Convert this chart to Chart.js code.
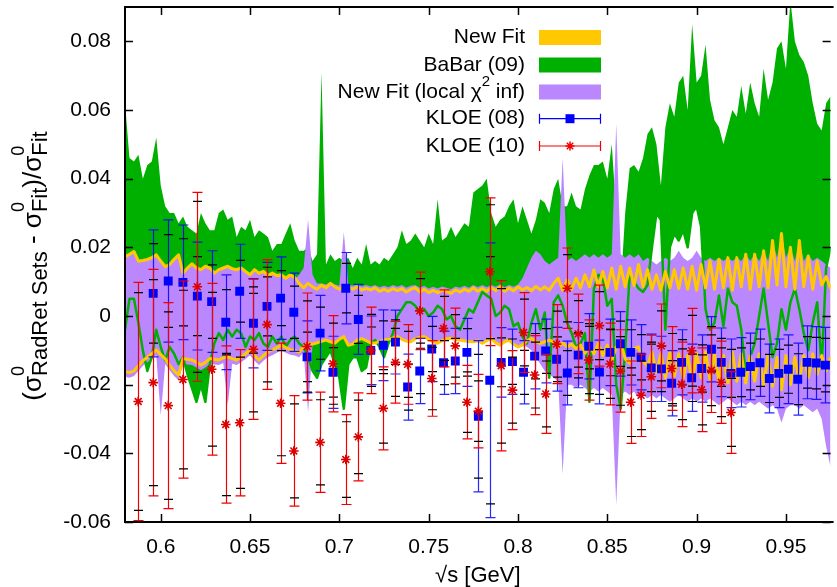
<!DOCTYPE html>
<html>
<head>
<meta charset="utf-8">
<script src="https://cdn.jsdelivr.net/npm/chart.js@4.4.0/dist/chart.umd.min.js"></script>
<style>
  html, body { margin: 0; padding: 0; background: #fff; }
  canvas { display: block; }
</style>
</head>
<body>
<canvas id="chart" width="837" height="587"></canvas>
<script>
const FONT = '"Liberation Sans", Arial, sans-serif';

const xTicks = [0.6, 0.65, 0.7, 0.75, 0.8, 0.85, 0.9, 0.95];
const xTickLabels = ['0.6', '0.65', '0.7', '0.75', '0.8', '0.85', '0.9', '0.95'];
const yTicks = [-0.06, -0.04, -0.02, 0, 0.02, 0.04, 0.06, 0.08];
const yTickLabels = ['-0.06', '-0.04', '-0.02', '0', '0.02', '0.04', '0.06', '0.08'];

// sqrt(s) grid the bands are read on
const bandX = [
  0.58,0.5825,0.585,0.5875,0.59,0.5925,0.595,0.5975,0.6,0.6025,
  0.605,0.6075,0.61,0.6125,0.615,0.6175,0.62,0.6225,0.625,0.6275,
  0.63,0.6325,0.635,0.6375,0.64,0.6425,0.645,0.6475,0.65,0.6525,
  0.655,0.6575,0.66,0.6625,0.665,0.6675,0.67,0.6725,0.675,0.6775,
  0.68,0.6825,0.685,0.6875,0.69,0.6925,0.695,0.6975,0.7,0.7025,
  0.705,0.7075,0.71,0.7125,0.715,0.7175,0.72,0.7225,0.725,0.7275,
  0.73,0.7325,0.735,0.7375,0.74,0.7425,0.745,0.7475,0.75,0.7525,
  0.755,0.7575,0.76,0.7625,0.765,0.7675,0.77,0.7725,0.775,0.7775,
  0.78,0.7825,0.785,0.7875,0.79,0.7925,0.795,0.7975,0.8,0.8025,
  0.805,0.8075,0.81,0.8125,0.815,0.8175,0.82,0.8225,0.825,0.8275,
  0.83,0.8325,0.835,0.8375,0.84,0.8425,0.845,0.8475,0.85,0.8525,
  0.855,0.8575,0.86,0.8625,0.865,0.8675,0.87,0.8725,0.875,0.8775,
  0.88,0.8825,0.885,0.8875,0.89,0.8925,0.895,0.8975,0.9,0.9025,
  0.905,0.9075,0.91,0.9125,0.915,0.9175,0.92,0.9225,0.925,0.9275,
  0.93,0.9325,0.935,0.9375,0.94,0.9425,0.945,0.9475,0.95,0.9525,
  0.955,0.9575,0.96,0.9625,0.965,0.9675,0.97,0.9725,0.975
];

// BaBar (09) band
const babarUpper = [
  0.062,0.046,0.045,0.047,0.040,0.044,0.045,0.052,0.038,0.032,
  0.030,0.030,0.027,0.029,0.026,0.025,0.024,0.030,0.027,0.025,
  0.025,0.030,0.031,0.028,0.029,0.023,0.026,0.025,0.028,0.023,
  0.025,0.024,0.023,0.019,0.021,0.021,0.024,0.027,0.022,0.019,
  0.019,0.020,0.016,0.018,0.071,0.015,0.018,0.016,0.017,0.016,
  0.017,0.014,0.017,0.015,0.021,0.015,0.016,0.015,0.017,0.016,
  0.018,0.020,0.025,0.021,0.022,0.024,0.022,0.020,0.024,0.021,
  0.034,0.022,0.023,0.026,0.023,0.025,0.027,0.026,0.036,0.037,
  0.038,0.040,0.030,0.026,0.028,0.029,0.032,0.034,0.027,0.032,
  0.028,0.024,0.028,0.034,0.033,0.030,0.037,0.040,0.032,0.032,
  0.036,0.032,0.031,0.037,0.041,0.044,0.044,0.045,0.040,0.050,
  0.030,0.008,0.030,0.043,0.044,0.042,0.046,0.053,0.055,0.050,
  0.038,0.055,0.062,0.058,0.068,0.070,0.060,0.085,0.068,0.070,
  0.079,0.063,0.057,0.055,0.050,0.055,0.060,0.058,0.067,0.059,
  0.068,0.062,0.058,0.072,0.063,0.068,0.078,0.080,0.072,0.092,
  0.080,0.076,0.074,0.070,0.062,0.056,0.054,0.062,0.064
];
const babarLower = [
  -0.004,0.005,0.005,-0.002,-0.010,-0.016,-0.012,-0.004,-0.009,-0.013,
  -0.009,-0.011,-0.014,-0.012,-0.017,-0.021,-0.025,-0.020,-0.025,-0.014,
  -0.008,-0.005,-0.007,-0.004,-0.006,-0.004,-0.005,-0.009,-0.006,-0.007,
  -0.005,-0.008,-0.009,-0.006,-0.008,-0.006,-0.009,-0.007,-0.006,-0.008,
  -0.009,-0.012,-0.016,-0.018,-0.014,-0.012,-0.010,-0.014,-0.018,-0.027,
  -0.014,-0.012,-0.012,-0.016,-0.015,-0.008,-0.007,-0.009,-0.012,-0.008,
  -0.005,0.000,0.002,0.004,0.004,0.003,0.001,0.002,0.000,0.001,
  0.003,0.002,-0.001,0.000,-0.003,-0.004,-0.001,0.002,0.001,0.004,
  0.007,0.006,0.005,0.000,0.001,0.003,0.002,-0.003,-0.002,-0.006,
  -0.008,-0.002,0.002,-0.004,0.001,-0.018,0.004,0.006,0.003,-0.002,
  -0.005,-0.009,-0.008,-0.005,-0.025,0.008,0.012,0.011,0.003,0.005,
  -0.020,-0.027,-0.010,0.012,0.010,0.008,0.007,0.009,0.020,0.030,
  0.028,-0.004,0.020,0.024,0.022,0.025,0.020,0.030,0.032,0.026,
  0.002,-0.004,-0.002,0.006,-0.003,0.008,0.004,0.003,-0.004,-0.017,
  -0.012,-0.008,0.000,0.008,-0.002,-0.012,-0.008,0.002,-0.004,0.004,
  0.008,0.002,-0.005,-0.010,-0.002,0.004,-0.015,0.014,0.020
];

// New Fit band
const fitUpper = [
  0.0173,0.018,0.0188,0.016,0.0162,0.0165,0.017,0.0178,0.016,0.0144,
  0.015,0.0165,0.0178,0.0125,0.014,0.0152,0.014,0.0135,0.0145,0.014,
  0.0125,0.0135,0.014,0.0145,0.0138,0.0135,0.014,0.013,0.012,0.0135,
  0.0125,0.013,0.0118,0.0125,0.0118,0.012,0.011,0.012,0.0112,0.0095,
  0.0082,0.0095,0.0085,0.0078,0.009,0.0082,0.0095,0.0085,0.0078,0.0088,
  0.0085,0.0078,0.0085,0.0076,0.008,0.0076,0.0082,0.0072,0.0078,0.0072,
  0.008,0.0074,0.008,0.007,0.0078,0.0082,0.007,0.0078,0.0068,0.0075,
  0.0068,0.0076,0.0072,0.0066,0.0076,0.007,0.0078,0.0072,0.0082,0.0072,
  0.008,0.0072,0.0082,0.0074,0.0085,0.0072,0.0082,0.0073,0.0085,0.0076,
  0.0083,0.0074,0.0086,0.0076,0.0085,0.0075,0.0095,0.011,0.0075,0.0105,
  0.0078,0.011,0.0082,0.012,0.0085,0.0134,0.0085,0.013,0.0082,0.014,
  0.0078,0.0145,0.0085,0.014,0.0088,0.015,0.0085,0.0135,0.0078,0.012,
  0.0075,0.013,0.0082,0.0135,0.008,0.014,0.0078,0.0145,0.0075,0.015,
  0.0082,0.016,0.0078,0.0165,0.0082,0.017,0.0075,0.017,0.0085,0.018,
  0.0078,0.018,0.0085,0.019,0.0082,0.022,0.009,0.024,0.0085,0.02,
  0.0078,0.022,0.0085,0.0175,0.0078,0.016,0.009,0.0115,0.008
];
const fitLower = [
  -0.0162,-0.0165,-0.016,-0.0145,-0.013,-0.012,-0.011,-0.0099,-0.0112,-0.0125,
  -0.0143,-0.016,-0.0172,-0.0124,-0.0126,-0.0128,-0.0135,-0.0143,-0.0135,-0.0124,
  -0.0126,-0.0128,-0.0122,-0.0119,-0.0124,-0.0128,-0.012,-0.011,-0.0099,-0.0115,
  -0.0128,-0.0115,-0.0105,-0.0099,-0.0092,-0.0085,-0.0092,-0.0098,-0.01,-0.0105,
  -0.009,-0.0079,-0.0082,-0.0078,-0.0074,-0.007,-0.0075,-0.0079,-0.0068,-0.006,
  -0.0085,-0.0082,-0.007,-0.0066,-0.0072,-0.0078,-0.0079,-0.0074,-0.007,-0.0068,
  -0.0064,-0.006,-0.0068,-0.0073,-0.0075,-0.0066,-0.0062,-0.006,-0.0068,-0.0075,
  -0.0079,-0.0072,-0.0066,-0.0065,-0.0068,-0.007,-0.0072,-0.0074,-0.0075,-0.0072,
  -0.0079,-0.0072,-0.0065,-0.0078,-0.0085,-0.0075,-0.007,-0.0082,-0.009,-0.0085,
  -0.0072,-0.0065,-0.0075,-0.008,-0.0075,-0.007,-0.0075,-0.009,-0.0078,-0.009,
  -0.0082,-0.0095,-0.0085,-0.0108,-0.0085,-0.011,-0.008,-0.0115,-0.0085,-0.0128,
  -0.009,-0.0075,-0.0125,-0.0137,-0.0095,-0.009,-0.013,-0.0147,-0.0105,-0.0165,
  -0.011,-0.018,-0.0105,-0.0175,-0.011,-0.018,-0.0115,-0.019,-0.011,-0.018,
  -0.0105,-0.0185,-0.011,-0.019,-0.0115,-0.0195,-0.0105,-0.019,-0.011,-0.0195,
  -0.0115,-0.019,-0.011,-0.02,-0.0115,-0.0205,-0.012,-0.0215,-0.0115,-0.02,
  -0.012,-0.019,-0.0115,-0.018,-0.011,-0.017,-0.0115,-0.016,-0.012
];

// New Fit (local chi2 inf) band
const localUpper = [
  0.0168,0.0175,0.0183,0.0155,0.0157,0.016,0.0165,0.0173,0.0155,0.0139,
  0.0145,0.016,0.0173,0.012,0.0135,0.0147,0.0135,0.013,0.014,0.0135,
  0.012,0.013,0.0135,0.014,0.0133,0.013,0.0135,0.0125,0.0115,0.013,
  0.012,0.0125,0.0113,0.012,0.0113,0.0115,0.0105,0.0115,0.0107,0.012,
  0.014,0.028,0.012,0.0095,0.0095,0.0092,0.0098,0.0092,0.0088,0.0245,
  0.0092,0.0088,0.0092,0.0086,0.009,0.0086,0.009,0.0084,0.0088,0.0084,
  0.009,0.0085,0.009,0.0082,0.0088,0.009,0.0082,0.0088,0.008,0.0085,
  0.008,0.0086,0.0082,0.0078,0.0086,0.0082,0.0088,0.0082,0.009,0.0084,
  0.009,0.0084,0.009,0.0085,0.0092,0.0084,0.009,0.0085,0.0092,0.011,
  0.014,0.017,0.019,0.018,0.016,0.015,0.016,0.017,0.046,0.016,
  0.017,0.016,0.017,0.018,0.017,0.018,0.017,0.018,0.017,0.018,
  0.056,0.018,0.017,0.018,0.017,0.018,0.016,0.017,0.016,0.015,
  0.016,0.017,0.016,0.017,0.019,0.017,0.016,0.017,0.019,0.017,
  0.016,0.017,0.016,0.017,0.016,0.017,0.016,0.017,0.016,0.018,
  0.016,0.018,0.016,0.019,0.016,0.022,0.017,0.024,0.017,0.02,
  0.016,0.022,0.016,0.018,0.016,0.017,0.016,0.015,0.014
];
const localLower = [
  -0.0177,-0.018,-0.0175,-0.016,-0.0145,-0.0135,-0.0125,-0.0114,-0.029,-0.014,
  -0.0158,-0.0175,-0.0187,-0.0139,-0.0141,-0.0143,-0.015,-0.0158,-0.015,-0.0139,
  -0.0141,-0.0143,-0.0137,-0.026,-0.0139,-0.0143,-0.0135,-0.0125,-0.0114,-0.013,
  -0.0143,-0.013,-0.012,-0.0114,-0.0107,-0.01,-0.0107,-0.0113,-0.0115,-0.012,
  -0.0105,-0.028,-0.008,-0.0076,-0.0072,-0.0068,-0.0073,-0.0077,-0.0066,-0.0058,
  -0.0083,-0.008,-0.0068,-0.0064,-0.007,-0.0076,-0.0077,-0.0072,-0.0068,-0.0066,
  -0.0062,-0.0058,-0.0066,-0.0071,-0.0073,-0.0064,-0.006,-0.0058,-0.0066,-0.0073,
  -0.0077,-0.007,-0.0064,-0.0063,-0.0066,-0.0068,-0.007,-0.0072,-0.0073,-0.007,
  -0.0077,-0.007,-0.0063,-0.0076,-0.0083,-0.0073,-0.0068,-0.008,-0.0088,-0.0083,
  -0.009,-0.01,-0.012,-0.014,-0.016,-0.017,-0.018,-0.019,-0.046,-0.02,
  -0.02,-0.021,-0.02,-0.021,-0.022,-0.021,-0.022,-0.021,-0.022,-0.023,
  -0.055,-0.023,-0.022,-0.023,-0.022,-0.024,-0.023,-0.024,-0.023,-0.024,
  -0.023,-0.024,-0.025,-0.024,-0.023,-0.024,-0.025,-0.024,-0.025,-0.024,
  -0.025,-0.024,-0.025,-0.026,-0.025,-0.024,-0.025,-0.026,-0.025,-0.026,
  -0.025,-0.026,-0.025,-0.026,-0.027,-0.026,-0.027,-0.031,-0.027,-0.026,
  -0.026,-0.027,-0.026,-0.027,-0.028,-0.027,-0.03,-0.038,-0.044
];

// KLOE (08)
const kloe08X = [
  0.5958,0.6042,0.6124,0.6205,0.6285,0.6364,0.6442,0.6519,0.6595,0.6671,
  0.6745,0.6819,0.6892,0.6964,0.7036,0.7106,0.7176,0.7246,0.7314,0.7382,
  0.7450,0.7517,0.7583,0.7649,0.7714,0.7778,0.7842,0.7906,0.7969,0.8031,
  0.8093,0.8155,0.8216,0.8276,0.8337,0.8396,0.8456,0.8515,0.8573,0.8631,
  0.8689,0.8746,0.8803,0.8860,0.8916,0.8972,0.9028,0.9083,0.9138,0.9192,
  0.9247,0.9301,0.9354,0.9407,0.9460,0.9513,0.9566,0.9618,0.9670,0.9721
];
const kloe08Y = [
  0.0066,0.0102,0.0098,0.0058,0.0042,-0.0018,0.0072,-0.0021,0.0028,0.0052,
  0.0011,-0.0119,-0.0050,-0.0164,0.0081,-0.0010,-0.0100,-0.0085,-0.0076,-0.0207,
  -0.0160,-0.0096,-0.0136,-0.0131,-0.0106,-0.0292,-0.0187,-0.0135,-0.0133,-0.0164,
  -0.0117,-0.0102,-0.0126,-0.0166,-0.0114,-0.0088,-0.0163,-0.0106,-0.0081,-0.0106,
  -0.0120,-0.0151,-0.0154,-0.0196,-0.0135,-0.0180,-0.0153,-0.0097,-0.0135,-0.0167,
  -0.0164,-0.0147,-0.0136,-0.0182,-0.0167,-0.0155,-0.0184,-0.0135,-0.0137,-0.0143
];
const kloe08Err = [
  0.0185,0.0178,0.0167,0.0157,0.0148,0.0138,0.0137,0.0130,0.0128,0.0120,
  0.0114,0.0105,0.0110,0.0105,0.0104,0.0102,0.0100,0.0103,0.0093,0.0096,
  0.0095,0.0095,0.0092,0.0095,0.0099,0.0220,0.0400,0.0101,0.0095,0.0092,
  0.0095,0.0093,0.0093,0.0093,0.0095,0.0095,0.0093,0.0097,0.0094,0.0095,
  0.0095,0.0098,0.0095,0.0095,0.0095,0.0098,0.0098,0.0095,0.0100,0.0100,
  0.0101,0.0097,0.0098,0.0100,0.0100,0.0100,0.0105,0.0106,0.0106,0.0110
];
const kloe08Inner = [
  0.0145,0.0135,0.0127,0.0115,0.0107,0.0095,0.009,0.0087,0.0086,0.008,
  0.0076,0.0072,0.0076,0.0072,0.0072,0.007,0.0068,0.0071,0.0065,0.0067,
  0.0066,0.0066,0.0064,0.0066,0.0069,0.018,0.036,0.0071,0.0066,0.0064,
  0.0066,0.0065,0.0065,0.0065,0.0066,0.0066,0.0065,0.0068,0.0066,0.0066,
  0.0066,0.0069,0.0066,0.0066,0.0066,0.0069,0.0069,0.0066,0.007,0.007,
  0.0071,0.0068,0.0069,0.007,0.007,0.007,0.0074,0.0075,0.0075,0.0078
];

// KLOE (10)
const kloe10X = [
  0.5874,0.5958,0.6042,0.6124,0.6205,0.6285,0.6364,0.6442,0.6519,0.6595,
  0.6671,0.6745,0.6819,0.6892,0.6964,0.7036,0.7106,0.7176,0.7246,0.7314,
  0.7382,0.7450,0.7517,0.7583,0.7649,0.7714,0.7778,0.7842,0.7906,0.7969,
  0.8031,0.8093,0.8155,0.8216,0.8276,0.8337,0.8396,0.8456,0.8515,0.8573,
  0.8631,0.8689,0.8746,0.8803,0.8860,0.8916,0.8972,0.9028,0.9083,0.9138,
  0.9192
];
const kloe10Y = [
  -0.0249,-0.0194,-0.0261,-0.0185,0.0085,-0.0155,-0.0316,-0.0311,-0.0097,-0.0025,
  -0.0254,-0.0393,-0.0089,-0.0368,-0.0139,-0.0418,-0.0352,-0.0100,-0.0269,-0.0135,
  -0.0141,0.0015,-0.0182,-0.0036,-0.0087,-0.0251,-0.0277,0.0129,-0.0145,-0.0216,
  -0.0048,-0.0172,-0.0227,-0.0082,0.0081,-0.0052,-0.0128,-0.0028,-0.0140,-0.0160,
  -0.0251,-0.0231,-0.0177,-0.0087,-0.0153,-0.0199,-0.0101,-0.0215,-0.0158,-0.0193,
  -0.0281
];
const kloe10Err = [
  0.0347,0.0330,0.0300,0.0287,0.0275,0.0250,0.0229,0.0213,0.0204,0.0189,
  0.0175,0.0161,0.0156,0.0146,0.0140,0.0131,0.0128,0.0126,0.0121,0.0119,
  0.0116,0.0113,0.0110,0.0112,0.0110,0.0107,0.0107,0.0215,0.0248,0.0115,
  0.0116,0.0115,0.0115,0.0115,0.0117,0.0116,0.0117,0.0118,0.0119,0.0120,
  0.0120,0.0120,0.0121,0.0122,0.0122,0.0123,0.0123,0.0122,0.0123,0.0120,
  0.0119
];
const kloe10Inner = [
  0.0317,0.030,0.0273,0.026,0.0249,0.0224,0.0207,0.0191,0.0182,0.0167,
  0.0153,0.0137,0.0133,0.0124,0.0118,0.011,0.0107,0.0105,0.0101,0.0099,
  0.0096,0.0094,0.0091,0.0093,0.0091,0.0088,0.0088,0.0195,0.0225,0.0096,
  0.0097,0.0096,0.0096,0.0096,0.0098,0.0097,0.0098,0.0099,0.01,0.01,
  0.01,0.01,0.0101,0.0102,0.0102,0.0103,0.0103,0.0102,0.0103,0.01,
  0.0099
];

const GREEN = 'rgb(0,176,0)';
const YELLOW = 'rgb(255,200,0)';
const PURPLE = 'rgb(186,135,255)';
const BLUE = 'rgb(0,0,255)';
const RED = 'rgb(240,0,0)';

const pts = (xs, ys) => xs.map((x, i) => ({ x: x, y: ys[i] }));

const band = (ys, color, order, fill) => ({
  data: pts(bandX, ys),
  borderWidth: 0,
  pointRadius: 0,
  backgroundColor: color,
  fill: fill ? '+1' : false,
  order: order
});

const line = (ys, color, width, order) => ({
  data: pts(bandX, ys),
  borderColor: color,
  borderWidth: width,
  borderJoinStyle: 'round',
  pointRadius: 0,
  fill: false,
  order: order
});

// error bars are drawn just before each KLOE point set
const errorBars = {
  id: 'errorBars',
  beforeDatasetDraw(chart, args) {
    const ds = chart.data.datasets[args.index];
    if (!ds.err) return;
    const { ctx, chartArea: a, scales: { x, y } } = chart;
    ctx.save();
    ctx.beginPath();
    ctx.rect(a.left, a.top, a.width, a.height);
    ctx.clip();
    ds.data.forEach((p, i) => {
      const px = Math.round(x.getPixelForValue(p.x)) + 0.5;
      const top = y.getPixelForValue(p.y + ds.err[i]);
      const bot = y.getPixelForValue(p.y - ds.err[i]);
      const itop = y.getPixelForValue(p.y + ds.inner[i]);
      const ibot = y.getPixelForValue(p.y - ds.inner[i]);
      ctx.lineWidth = 1.2;
      ctx.strokeStyle = ds.barColor;
      ctx.beginPath();
      ctx.moveTo(px, top); ctx.lineTo(px, bot);
      ctx.moveTo(px - 5, top); ctx.lineTo(px + 5, top);
      ctx.moveTo(px - 5, bot); ctx.lineTo(px + 5, bot);
      ctx.stroke();
      ctx.strokeStyle = '#000';
      ctx.beginPath();
      ctx.moveTo(px - 4.5, itop); ctx.lineTo(px + 4.5, itop);
      ctx.moveTo(px - 4.5, ibot); ctx.lineTo(px + 4.5, ibot);
      ctx.stroke();
    });
    ctx.restore();
  }
};

const legendRows = ['New Fit', 'BaBar (09)', 'New Fit (local \u03c7', 'KLOE (08)', 'KLOE (10)'];

// text with a stacked superscript / subscript after each piece
function richWidth(ctx, tokens, big, sub, sup) {
  let w = 0;
  tokens.forEach(t => {
    ctx.font = big + 'px ' + FONT;
    w += ctx.measureText(t.t).width;
    ctx.font = sub + 'px ' + FONT;
    const ws = ctx.measureText(t.sub).width;
    ctx.font = sup + 'px ' + FONT;
    w += Math.max(ws, ctx.measureText(t.sup).width);
  });
  return w;
}

function drawRich(ctx, tokens, x, y, big, sub, sup) {
  tokens.forEach(t => {
    ctx.font = big + 'px ' + FONT;
    ctx.fillText(t.t, x, y);
    x += ctx.measureText(t.t).width;
    ctx.font = sup + 'px ' + FONT;
    ctx.fillText(t.sup, x, y - 17);
    const wp = ctx.measureText(t.sup).width;
    ctx.font = sub + 'px ' + FONT;
    ctx.fillText(t.sub, x, y + 6);
    x += Math.max(wp, ctx.measureText(t.sub).width);
  });
}

const decorations = {
  id: 'decorations',
  afterDraw(chart) {
    const { ctx, chartArea: a, scales: { x, y } } = chart;
    ctx.save();

    // tick marks inside the frame
    ctx.strokeStyle = '#000';
    ctx.lineWidth = 1.5;
    ctx.beginPath();
    xTicks.forEach(v => {
      const px = Math.round(x.getPixelForValue(v)) + 0.5;
      ctx.moveTo(px, a.bottom); ctx.lineTo(px, a.bottom - 8);
      ctx.moveTo(px, a.top); ctx.lineTo(px, a.top + 8);
    });
    yTicks.forEach(v => {
      const py = Math.round(y.getPixelForValue(v)) + 0.5;
      ctx.moveTo(a.left, py); ctx.lineTo(a.left + 8, py);
      ctx.moveTo(a.right, py); ctx.lineTo(a.right - 8, py);
    });
    ctx.stroke();

    // frame, right side sits just off the picture
    ctx.lineWidth = 2;
    ctx.beginPath();
    ctx.moveTo(a.right + 3, a.top);
    ctx.lineTo(a.left, a.top);
    ctx.lineTo(a.left, a.bottom);
    ctx.lineTo(a.right + 3, a.bottom);
    ctx.stroke();

    // tick labels
    ctx.fillStyle = '#000';
    ctx.font = '21px ' + FONT;
    ctx.textBaseline = 'middle';
    ctx.textAlign = 'center';
    xTicks.forEach((v, i) => ctx.fillText(xTickLabels[i], x.getPixelForValue(v), 547));
    ctx.textAlign = 'right';
    yTicks.forEach((v, i) => ctx.fillText(yTickLabels[i], 111, y.getPixelForValue(v)));

    // axis titles
    ctx.textAlign = 'center';
    ctx.textBaseline = 'alphabetic';
    ctx.font = '22px ' + FONT;
    ctx.fillText('\u221as [GeV]', (a.left + a.right) / 2, 582);

    const yTitle = [
      { t: '(\u03c3', sup: '0', sub: 'RadRet Sets' },
      { t: ' - \u03c3', sup: '0', sub: 'Fit' },
      { t: ')/\u03c3', sup: '0', sub: 'Fit' }
    ];
    ctx.save();
    ctx.translate(41, 266);
    ctx.rotate(-Math.PI / 2);
    ctx.textAlign = 'left';
    const tw = richWidth(ctx, yTitle, 26, 22, 18);
    drawRich(ctx, yTitle, -tw / 2, 0, 26, 22, 18);
    ctx.restore();

    // key
    const rowY = [37.5, 65, 92, 118.7, 146];
    const textRight = 525;
    const s0 = 539, s1 = 601;
    ctx.font = '21px ' + FONT;
    ctx.textBaseline = 'middle';
    ctx.textAlign = 'right';
    legendRows.forEach((label, i) => {
      if (i === 2) {
        ctx.fillText(' inf)', textRight, rowY[i]);
        const w1 = ctx.measureText(' inf)').width;
        ctx.font = '15px ' + FONT;
        const w2 = ctx.measureText('2').width;
        ctx.fillText('2', textRight - w1, rowY[i] - 10);
        ctx.font = '21px ' + FONT;
        ctx.fillText(label, textRight - w1 - w2, rowY[i]);
      } else {
        ctx.fillText(label, textRight, rowY[i]);
      }
    });
    ctx.fillStyle = YELLOW; ctx.fillRect(s0, rowY[0] - 7.5, s1 - s0, 15);
    ctx.fillStyle = GREEN; ctx.fillRect(s0, rowY[1] - 7.5, s1 - s0, 15);
    ctx.fillStyle = PURPLE; ctx.fillRect(s0, rowY[2] - 7.5, s1 - s0, 15);
    [[BLUE, rowY[3]], [RED, rowY[4]]].forEach(([c, yy]) => {
      ctx.strokeStyle = c;
      ctx.lineWidth = 1.2;
      ctx.beginPath();
      ctx.moveTo(s0, yy); ctx.lineTo(s1, yy);
      ctx.moveTo(s0 + 0.5, yy - 5); ctx.lineTo(s0 + 0.5, yy + 5);
      ctx.moveTo(s1 - 0.5, yy - 5); ctx.lineTo(s1 - 0.5, yy + 5);
      ctx.stroke();
    });
    const mid = (s0 + s1) / 2;
    ctx.fillStyle = BLUE;
    ctx.fillRect(mid - 4.5, rowY[3] - 4.5, 9, 9);
    ctx.strokeStyle = RED;
    ctx.lineWidth = 1.5;
    ctx.beginPath();
    const r = 4.5, d = r * Math.SQRT1_2;
    ctx.moveTo(mid - r, rowY[4]); ctx.lineTo(mid + r, rowY[4]);
    ctx.moveTo(mid, rowY[4] - r); ctx.lineTo(mid, rowY[4] + r);
    ctx.moveTo(mid - d, rowY[4] - d); ctx.lineTo(mid + d, rowY[4] + d);
    ctx.moveTo(mid - d, rowY[4] + d); ctx.lineTo(mid + d, rowY[4] - d);
    ctx.stroke();

    ctx.restore();
  }
};

new Chart(document.getElementById('chart'), {
  type: 'line',
  data: {
    datasets: [
      band(babarUpper, GREEN, 20, true),
      band(babarLower, GREEN, 20, false),
      band(fitUpper, YELLOW, 18, true),
      band(fitLower, YELLOW, 18, false),
      band(localUpper, PURPLE, 16, true),
      band(localLower, PURPLE, 16, false),
      line(babarLower, GREEN, 2.5, 14),
      line(fitUpper, YELLOW, 3, 12),
      line(fitLower, YELLOW, 3, 12),
      {
        data: pts(kloe08X, kloe08Y),
        err: kloe08Err, inner: kloe08Inner, barColor: 'rgba(0,0,255,0.85)',
        showLine: false,
        pointStyle: 'rect',
        pointRadius: 6.3,
        pointBackgroundColor: BLUE,
        pointBorderWidth: 0,
        order: 10
      },
      {
        data: pts(kloe10X, kloe10Y),
        err: kloe10Err, inner: kloe10Inner, barColor: RED,
        showLine: false,
        pointStyle: 'star',
        pointRadius: 4.8,
        pointBorderColor: 'rgb(220,0,0)',
        pointBorderWidth: 1.6,
        order: 8
      }
    ]
  },
  options: {
    responsive: false,
    devicePixelRatio: 1,
    animation: false,
    layout: { padding: { top: 7, left: 0, right: 0, bottom: 0 } },
    elements: { line: { tension: 0 } },
    plugins: {
      legend: { display: false },
      tooltip: { enabled: false },
      filler: { propagate: false }
    },
    scales: {
      x: {
        type: 'linear',
        min: 0.58,
        max: 0.975,
        grid: { display: false },
        border: { display: false },
        ticks: { display: false },
        afterFit: s => { s.height = 65; }
      },
      y: {
        min: -0.06,
        max: 0.09,
        grid: { display: false },
        border: { display: false },
        ticks: { display: false },
        afterFit: s => { s.width = 125; }
      }
    }
  },
  plugins: [errorBars, decorations]
});
</script>
</body>
</html>
